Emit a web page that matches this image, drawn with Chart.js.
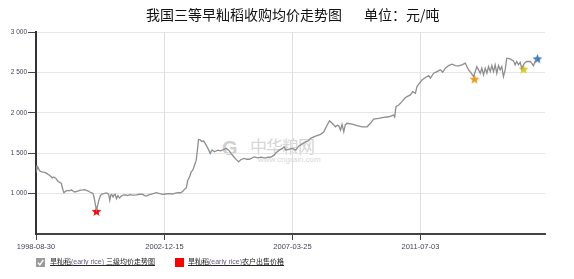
<!DOCTYPE html>
<html><head><meta charset="utf-8">
<script src="https://cdn.jsdelivr.net/npm/chart.js@4.4.0/dist/chart.umd.min.js"></script>
<style>
html,body{margin:0;padding:0;background:#fff;}
#wrap{position:relative;width:574px;height:279px;overflow:hidden;font-family:"Liberation Sans","Noto Sans CJK SC",sans-serif;}
#c{position:absolute;left:0;top:0;z-index:2;}
#title{position:absolute;left:146px;top:4px;font:14px/20px "Noto Sans CJK SC",sans-serif;color:#111;white-space:nowrap;z-index:3;}
#title .u{margin-left:22px;}
#wm{position:absolute;left:222px;top:134px;z-index:1;color:#d6d6d6;white-space:nowrap;}
#wm .g{position:absolute;left:0;top:4px;font:bold 20px/20px "Liberation Sans",sans-serif;color:#d0d0d0;}
#wm .cn{position:absolute;left:28px;top:2px;font:17px/20px "Noto Sans CJK SC",sans-serif;letter-spacing:-1px;}
#wm .en{position:absolute;left:36px;top:21px;font:8px/9px "Liberation Sans",sans-serif;color:#d8d8d8;}
.lg{position:absolute;top:257px;z-index:3;font:7px/10px "Liberation Sans","Noto Sans CJK SC",sans-serif;color:#222;text-decoration:underline;white-space:nowrap;}
.lg .en{color:#6a5a80;}
#chk{position:absolute;left:36px;top:258px;width:9px;height:9px;z-index:3;}
#sq{position:absolute;left:175px;top:258px;width:9px;height:9px;background:#ff0000;z-index:3;}
</style>
</head><body>
<div id="wrap">
  <div id="wm"><span class="g">G</span><span class="cn">中华粮网</span><span class="en">www.cngrain.com</span></div>
  <canvas id="c" width="574" height="279"></canvas>
  <div id="title">我国三等早籼稻收购均价走势图<span class="u">单位：元/吨</span></div>
  <svg id="chk" viewBox="0 0 9 9"><rect x="0" y="0" width="9" height="9" fill="#9a9a9a"/><path d="M1.8 4.6 L3.8 6.8 L7.4 1.8" stroke="#fff" stroke-width="1.4" fill="none"/></svg>
  <div class="lg" style="left:50px;">旱籼稻<span class="en">(early rice)</span> 三级均价走势图</div>
  <div id="sq"></div>
  <div class="lg" style="left:188px;">旱籼稻<span class="en">(early rice)</span>农户出售价格</div>
</div>
<script>
// ---- data ----
const dates = [
'1998-09-01','1998-09-10','1998-09-20','1998-10-15','1998-11-08','1998-12-15','1999-01-08','1999-02-14','1999-03-18','1999-04-03',
'1999-04-27','1999-05-25','1999-06-15','1999-07-05','1999-07-25','1999-08-06','1999-08-27','1999-09-24','1999-10-15','1999-11-05',
'1999-11-20','1999-12-15','2000-01-20','2000-02-14','2000-03-22','2000-04-15','2000-05-22','2000-06-16','2000-07-10','2000-07-26',
'2000-08-10','2000-08-25','2000-09-06','2000-09-22','2000-10-04','2000-10-22','2000-11-06','2000-12-04','2001-01-06','2001-01-22',
'2001-02-03','2001-02-15','2001-02-27','2001-03-11','2001-03-27','2001-04-08','2001-04-23','2001-05-07','2001-05-26','2001-06-04',
'2001-06-16','2001-07-04','2001-07-26','2001-08-28','2001-09-21','2001-10-16','2001-11-21','2002-01-05','2002-02-14','2002-03-26',
'2002-04-16','2002-05-07','2002-06-04','2002-07-10','2002-09-06','2002-10-16','2002-11-25','2002-12-28','2003-02-15','2003-03-23',
'2003-05-07','2003-06-08','2003-06-29','2003-07-27','2003-08-16','2003-09-06','2003-09-25','2003-10-16','2003-11-06','2003-11-25',
'2003-12-16','2004-01-06','2004-01-18','2004-02-03','2004-02-24','2004-03-14','2004-04-07','2004-05-06','2004-05-22','2004-06-07',
'2004-06-24','2004-07-18','2004-08-15','2004-09-24','2004-10-27','2004-11-24','2005-01-04','2005-02-05','2005-03-06','2005-04-15',
'2005-05-09','2005-06-06','2005-07-05','2005-08-14','2005-09-13','2005-10-14','2005-12-14','2006-01-23','2006-03-05','2006-04-02',
'2006-05-04','2006-06-01','2006-07-04','2006-08-13','2006-09-03','2006-10-13','2006-11-22','2006-12-13','2007-01-02','2007-02-11',
'2007-03-23','2007-05-03','2007-06-12','2007-07-22','2007-09-01','2007-10-03','2007-11-01','2008-01-01','2008-03-02','2008-04-11',
'2008-05-21','2008-06-19','2008-07-21','2008-08-31','2008-09-22','2008-10-10','2008-10-31','2008-11-19','2008-12-10','2008-12-28',
'2009-01-19','2009-03-21','2009-05-21','2009-07-21','2009-09-20','2009-10-31','2009-12-10','2010-02-09','2010-04-11','2010-06-11',
'2010-08-11','2010-08-23','2010-09-08','2010-10-11','2010-11-20','2010-12-23','2011-01-20','2011-03-03','2011-03-31','2011-05-03',
'2011-05-22','2011-06-21','2011-07-23','2011-09-02','2011-09-24','2011-10-12','2011-11-02','2011-12-12','2012-01-21','2012-03-03',
'2012-03-31','2012-05-03','2012-06-12','2012-07-22','2012-09-01','2012-10-11','2012-11-20','2013-01-01','2013-01-20','2013-02-10',
'2013-03-14','2013-04-11','2013-05-02','2013-05-21','2013-06-11','2013-07-02','2013-07-21','2013-08-11','2013-09-01','2013-09-21',
'2013-10-11','2013-11-01','2013-11-20','2013-12-11','2013-12-31','2014-01-20','2014-02-10','2014-03-02','2014-03-22','2014-04-11',
'2014-05-02','2014-05-21','2014-07-02','2014-08-11','2014-09-01','2014-09-20','2014-10-11','2014-11-01','2014-11-20','2014-12-23',
'2015-01-20','2015-03-02','2015-03-22','2015-04-11','2015-05-02','2015-05-21'
];
const prices = [
1345,1300,1330,1280,1270,1262,1250,1225,1195,1205,
1190,1150,1140,1125,1045,1012,1030,1040,1035,1048,
1035,1020,1030,1040,1045,1050,1035,1020,1010,1000,
940,855,800,860,917,970,990,1000,1008,1000,
985,917,980,990,958,985,990,938,975,960,
945,970,980,985,975,988,980,985,992,990,
975,970,985,995,1012,1000,990,995,1000,995,
1008,1012,1010,1030,1055,1070,1165,1206,1268,1290,
1351,1414,1520,1670,1665,1645,1650,1600,1570,1538,
1497,1540,1517,1538,1530,1540,1560,1538,1497,1447,
1420,1393,1422,1435,1425,1425,1455,1442,1452,1445,
1442,1450,1452,1476,1504,1538,1559,1580,1540,1548,
1559,1540,1590,1615,1640,1653,1683,1712,1733,1765,
1848,1902,1870,1827,1845,1840,1786,1857,1765,1850,
1870,1861,1840,1827,1827,1870,1923,1931,1944,1951,
1972,1950,2076,2097,2138,2180,2200,2221,2262,2242,
2324,2366,2407,2436,2450,2460,2430,2490,2510,2531,
2503,2552,2585,2602,2585,2581,2594,2615,2572,2531,
2490,2449,2510,2572,2531,2490,2552,2469,2552,2490,
2572,2510,2585,2510,2594,2490,2585,2531,2572,2449,
2531,2676,2668,2643,2594,2635,2594,2625,2552,2615,
2635,2635,2615,2581,2635,2668
];
const farmerDates = ['2000-09-06','2013-04-23','2014-12-11','2015-05-30'];
const farmerPrices = [780, 2416, 2540, 2668];
const farmerStarColors = ['#ff0000','#f29a1e','#d9c81e','#3b78c8'];
const xTickDates = ['1998-08-30','2002-12-15','2007-03-25','2011-07-03'];
const xRange = ['1998-08-30','2015-08-31'];
const yTicks = [1000,1500,2000,2500,3000];
const yRange = [500,3000];

// ---- helpers ----
function day(s){const p=s.split('-').map(Number);return Date.UTC(p[0],p[1]-1,p[2])/86400000;}
function star(color){
  const cv=document.createElement('canvas');cv.width=11;cv.height=11;
  const g=cv.getContext('2d');g.beginPath();
  for(let i=0;i<10;i++){const r=i%2?2.2:5.2;const a=-Math.PI/2+i*Math.PI/5;
    const x=5.5+r*Math.cos(a),y=5.8+r*Math.sin(a);i?g.lineTo(x,y):g.moveTo(x,y);}
  g.closePath();g.fillStyle=color;g.fill();return cv;
}
function fmt(v){return String(v).replace(/\B(?=(\d{3})+(?!\d))/g,' ');}

const lineData = dates.map((d,i)=>({x:day(d),y:prices[i]}));
const starData = farmerDates.map((d,i)=>({x:day(d),y:farmerPrices[i]}));

new Chart(document.getElementById('c'),{
  type:'line',
  data:{datasets:[
    {label:'旱籼稻(early rice) 三级均价走势图',data:lineData,borderColor:'#8e8e8e',borderWidth:1.3,pointRadius:0,tension:0,fill:false},
    {label:'旱籼稻(early rice)农户出售价格',data:starData,showLine:false,pointStyle:farmerStarColors.map(star),pointRadius:5,borderWidth:0}
  ]},
  options:{
    responsive:false,animation:false,
    layout:{padding:{left:0,right:29,top:32,bottom:25}},
    plugins:{legend:{display:false},title:{display:false},tooltip:{enabled:false}},
    scales:{
      x:{type:'linear',min:day(xRange[0]),max:day(xRange[1]),
        afterBuildTicks:s=>{s.ticks=xTickDates.map(d=>({value:day(d)}));},
        afterFit:s=>{s.height=20;},
        ticks:{autoSkip:false,maxRotation:0,padding:2,color:'#4a4058',font:{family:'Liberation Sans',size:7.5},callback:(v,i)=>xTickDates[i]},
        grid:{color:'#dedede',lineWidth:1,tickLength:6,tickColor:'#444'},
        border:{display:true,color:'#444',width:2}},
      y:{min:yRange[0],max:yRange[1],
        afterBuildTicks:s=>{s.ticks=yTicks.map(v=>({value:v}));},
        afterFit:s=>{s.width=36;},
        ticks:{padding:1,color:'#4a4058',font:{family:'Liberation Sans',size:6.5},callback:v=>fmt(v)},
        grid:{color:'#e6e6e6',lineWidth:1,tickLength:8,tickColor:'#444'},
        border:{display:true,color:'#333',width:2}}
    }
  }
});
</script>
</body></html>
